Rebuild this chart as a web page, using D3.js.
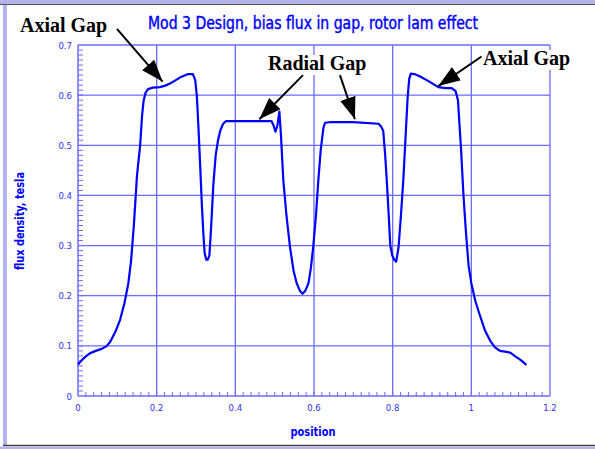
<!DOCTYPE html>
<html>
<head>
<meta charset="utf-8">
<script src="https://cdn.jsdelivr.net/npm/d3@7"></script>
<style>
  body { margin: 0; background: #fff; }
  svg { display: block; }
</style>
</head>
<body>
<svg id="chart" width="595" height="449"></svg>
<script>
// flux curve
const position = [0.000,0.010,0.020,0.030,0.045,0.060,0.072,0.082,0.095,0.107,0.118,0.128,0.135,0.142,0.150,0.158,0.163,0.167,0.172,0.178,
  0.190,0.208,0.222,0.234,0.259,0.280,0.292,0.298,0.302,0.306,0.310,0.315,0.319,0.322,0.326,0.330,0.334,0.338,0.344,0.350,
  0.356,0.362,0.369,0.376,0.400,0.450,0.492,0.497,0.502,0.507,0.512,0.516,0.522,0.530,0.539,0.548,0.556,0.564,0.571,0.578,
  0.586,0.592,0.598,0.605,0.611,0.617,0.624,0.628,0.640,0.700,0.764,0.770,0.776,0.781,0.785,0.790,0.794,0.799,0.804,0.809,
  0.815,0.821,0.827,0.833,0.838,0.842,0.846,0.855,0.870,0.891,0.916,0.935,0.950,0.960,0.966,0.970,0.974,0.980,0.986,0.993,
  1.000,1.010,1.020,1.035,1.048,1.060,1.073,1.090,1.100,1.110,1.125,1.140];
const flux = [0.063,0.072,0.079,0.085,0.090,0.094,0.099,0.108,0.128,0.152,0.185,0.225,0.270,0.340,0.440,0.500,0.560,0.590,0.605,0.612,
  0.615,0.616,0.619,0.623,0.635,0.642,0.642,0.630,0.600,0.540,0.470,0.380,0.320,0.285,0.272,0.272,0.280,0.330,0.420,0.480,
  0.510,0.530,0.543,0.548,0.548,0.548,0.548,0.540,0.527,0.540,0.567,0.520,0.430,0.360,0.297,0.250,0.225,0.210,0.204,0.210,
  0.225,0.255,0.297,0.360,0.430,0.490,0.535,0.545,0.546,0.546,0.543,0.538,0.529,0.480,0.430,0.360,0.300,0.280,0.272,0.268,
  0.297,0.360,0.430,0.520,0.595,0.632,0.643,0.642,0.637,0.628,0.616,0.614,0.614,0.608,0.590,0.540,0.490,0.400,0.330,0.260,
  0.225,0.190,0.165,0.130,0.110,0.097,0.090,0.088,0.086,0.080,0.072,0.062];

const xTicks = [0, 0.2, 0.4, 0.6, 0.8, 1, 1.2];
const xTickLabels = ["0", "0.2", "0.4", "0.6", "0.8", "1", "1.2"];
const yTicks = [0, 0.1, 0.2, 0.3, 0.4, 0.5, 0.6, 0.7];
const yTickLabels = ["0", "0.1", "0.2", "0.3", "0.4", "0.5", "0.6", "0.7"];

// annotations: label position, arrows from/to in data units (tip lands on the curve)
const notes = [
  {text: "Axial Gap", lx: 20, ly: 32, arrows: [{fx: 0.099, fy: 0.732, tx: 0.215, ty: 0.627}]},
  {text: "Radial Gap", lx: 268, ly: 70, arrows: [{fx: 0.572, fy: 0.64, tx: 0.461, ty: 0.552}, {fx: 0.666, fy: 0.64, tx: 0.704, ty: 0.552}]},
  {text: "Axial Gap", lx: 483, ly: 65, arrows: [{fx: 1.026, fy: 0.677, tx: 0.916, ty: 0.618}]}
];

const svg = d3.select("#chart");
const W = 595, H = 449;
const blue = "#0000ff";
const grid = "#6a6aff";

// window frame
svg.append("rect").attr("x", 0).attr("y", 0).attr("width", W).attr("height", H).attr("fill", "#fff");
svg.append("rect").attr("x", 0).attr("y", 0).attr("width", W).attr("height", 4).attr("fill", "#b4b4ec");
svg.append("line").attr("x1", 0).attr("x2", W).attr("y1", 4.5).attr("y2", 4.5).attr("stroke", "#555").attr("stroke-width", 1.2);
svg.append("rect").attr("x", 3).attr("y", 5).attr("width", 4).attr("height", 441).attr("fill", "#b4b4ec");
svg.append("line").attr("x1", 3).attr("x2", W).attr("y1", 445.5).attr("y2", 445.5).attr("stroke", "#444").attr("stroke-width", 1.5);
svg.append("rect").attr("x", 0).attr("y", 446.5).attr("width", W).attr("height", 3).attr("fill", "#b4b4ec");

const x = d3.scaleLinear().domain([0, 1.2]).range([78, 550]);
const y = d3.scaleLinear().domain([0, 0.7]).range([396, 45]);

// grid
svg.append("g").selectAll("line").data(xTicks.slice(1)).join("line")
  .attr("x1", d => x(d)).attr("x2", d => x(d)).attr("y1", y(0)).attr("y2", y(0.7))
  .attr("stroke", grid).attr("stroke-width", 1.3);
svg.append("g").selectAll("line").data(yTicks.slice(1)).join("line")
  .attr("x1", x(0)).attr("x2", x(1.2)).attr("y1", d => y(d)).attr("y2", d => y(d))
  .attr("stroke", grid).attr("stroke-width", 1.3);

// axes
svg.append("line").attr("x1", x(0)).attr("x2", x(0)).attr("y1", y(0)).attr("y2", y(0.7)).attr("stroke", grid).attr("stroke-width", 1.5);
svg.append("line").attr("x1", x(0)).attr("x2", x(1.2)).attr("y1", y(0)).attr("y2", y(0)).attr("stroke", grid).attr("stroke-width", 1.5);

// minor ticks
const yMinor = d3.range(1, 70).map(i => i / 100);
svg.append("g").selectAll("line").data(yMinor).join("line")
  .attr("x1", x(0)).attr("x2", x(0) + 5).attr("y1", d => y(d)).attr("y2", d => y(d))
  .attr("stroke", grid).attr("stroke-width", 1);
const xMinor = d3.range(1, 60).map(i => i / 50);
svg.append("g").selectAll("line").data(xMinor).join("line")
  .attr("x1", d => x(d)).attr("x2", d => x(d)).attr("y1", y(0)).attr("y2", y(0) - 4)
  .attr("stroke", grid).attr("stroke-width", 1);

// tick labels
const tickFont = "'DejaVu Sans Condensed', 'Liberation Sans Narrow', sans-serif";
svg.append("g").selectAll("text").data(yTicks).join("text")
  .attr("x", 72).attr("y", d => y(d) + 3.5)
  .attr("text-anchor", "end").attr("font-family", tickFont).attr("font-size", 9.5)
  .attr("fill", "#3030ff").text((d, i) => yTickLabels[i]);
svg.append("g").selectAll("text").data(xTicks).join("text")
  .attr("x", d => x(d)).attr("y", 411)
  .attr("text-anchor", "middle").attr("font-family", tickFont).attr("font-size", 9.5)
  .attr("fill", "#3030ff").text((d, i) => xTickLabels[i]);

// curve
const pts = position.map((p, i) => [p, flux[i]]);
svg.append("path").datum(pts)
  .attr("d", d3.line().x(d => x(d[0])).y(d => y(d[1])))
  .attr("fill", "none").attr("stroke", blue).attr("stroke-width", 2.2)
  .attr("stroke-linejoin", "round");

// titles
svg.append("text").attr("x", 148).attr("y", 29)
  .attr("font-family", tickFont).attr("font-size", 17)
  .attr("stroke", blue).attr("stroke-width", 0.4)
  .attr("textLength", 330).attr("lengthAdjust", "spacingAndGlyphs")
  .attr("fill", blue).text("Mod 3 Design, bias flux in gap, rotor lam effect");
svg.append("text").attr("x", 313).attr("y", 436)
  .attr("text-anchor", "middle").attr("font-family", tickFont).attr("font-size", 13).attr("font-weight", "bold")
  .attr("textLength", 45).attr("lengthAdjust", "spacingAndGlyphs")
  .attr("fill", blue).text("position");
svg.append("text").attr("transform", "translate(24,221) rotate(-90)")
  .attr("text-anchor", "middle").attr("font-family", tickFont).attr("font-size", 12).attr("font-weight", "bold")
  .attr("textLength", 98).attr("lengthAdjust", "spacingAndGlyphs")
  .attr("fill", blue).text("flux density, tesla");

// annotations
svg.append("defs").append("marker")
  .attr("id", "head").attr("viewBox", "0 0 22 16").attr("refX", 22).attr("refY", 8)
  .attr("markerWidth", 22).attr("markerHeight", 16).attr("markerUnits", "userSpaceOnUse")
  .attr("preserveAspectRatio", "none").attr("orient", "auto")
  .append("path").attr("d", "M0,0 L22,8 L0,16 Z").attr("fill", "#000");

notes.forEach(n => {
  const t = svg.append("text").attr("x", n.lx).attr("y", n.ly)
    .attr("font-family", "'Liberation Serif', 'Times New Roman', serif")
    .attr("font-size", 20).attr("font-weight", "bold").attr("fill", "#000").text(n.text);
  const bb = t.node().getBBox();
  svg.insert("rect", () => t.node())
    .attr("x", bb.x - 1).attr("y", bb.y + 3).attr("width", bb.width + 2).attr("height", bb.height - 3)
    .attr("fill", "#fff");
  n.arrows.forEach(a => {
    svg.append("line")
      .attr("x1", x(a.fx)).attr("y1", y(a.fy)).attr("x2", x(a.tx)).attr("y2", y(a.ty))
      .attr("stroke", "#000").attr("stroke-width", 2).attr("marker-end", "url(#head)");
  });
});
</script>
</body>
</html>
